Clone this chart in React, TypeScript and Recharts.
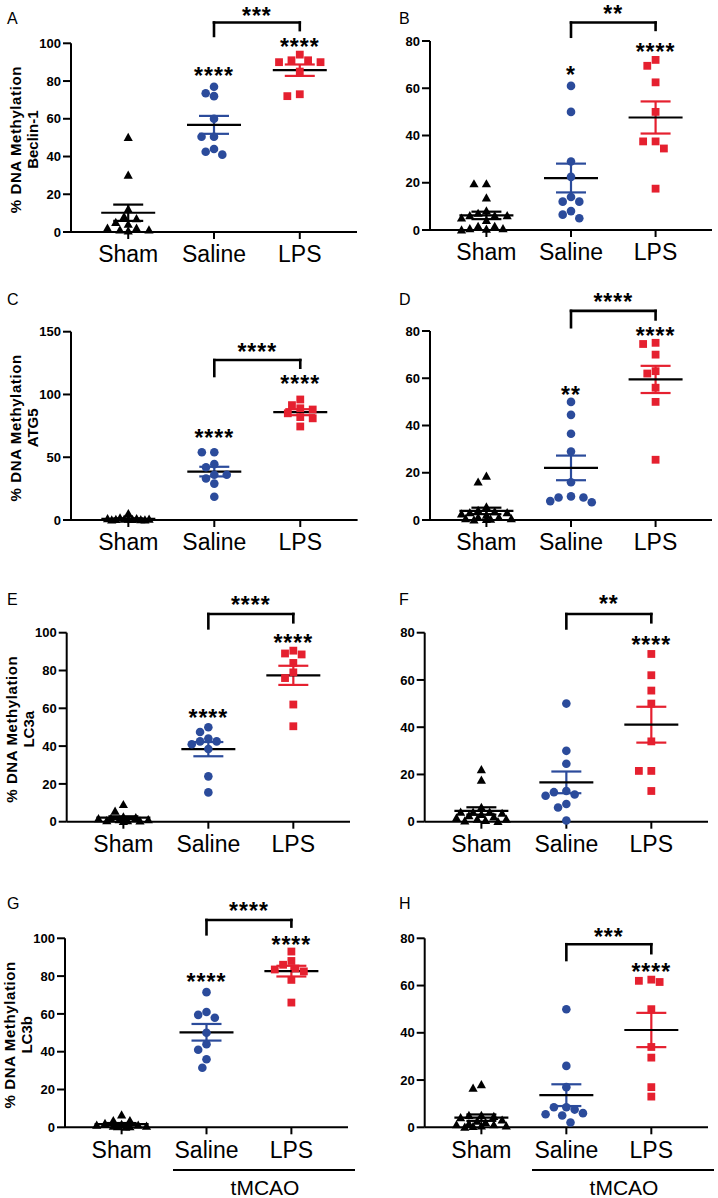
import React from 'react';
import { ScatterChart, Scatter, XAxis, YAxis, ReferenceLine, ReferenceDot } from 'recharts';

const FONT = '"Liberation Sans", Arial, Helvetica, sans-serif';
const BLUE = '#2B4B9B';
const RED = '#E5202F';
const BLACK = '#000000';

// ---------- data ----------
const groups = ['Sham', 'Saline', 'LPS'];

const shamA = [50, 30, 12, 8, 7, 5, 4, 2, 2, 1, 1, 0.5];
const salineA = [77, 73.5, 72, 60, 50.5, 50.5, 44, 42.5, 41];
const lpsA = [94, 91, 91, 90, 90, 85, 73, 72];

const shamB = [19.5, 19.5, 13.5, 8, 7, 6, 6, 6, 5, 4, 1.5, 1.5, 0.5, 0.5, 0.3, 0];
const salineB = [61, 50, 29, 22.5, 14, 12, 12, 8, 6.5, 5];
const lpsB = [72, 69.5, 62.5, 50, 37.5, 37.5, 34.5, 17.5];

const shamC = [5, 1.5, 1, 1, 0.5, 0.5, 0.5, 0.3, 0.3, 0.2, 0, 0];
const salineC = [54, 54, 44.5, 42, 36, 36, 33, 29, 18.5];
const lpsC = [96, 91.5, 89, 88, 85, 82, 81, 74.5];

const shamD = [18.5, 16, 5.5, 4, 3.5, 3, 3, 2.5, 2, 1, 1, 0.5, 0.5, 0.3, 0.2, 0];
const salineD = [50, 44.5, 36.5, 29, 16, 10, 9.5, 9.5, 8, 7.5];
const lpsD = [75, 74.5, 70, 63, 62, 56, 50, 25.5];

const shamE = [9, 5.5, 2.5, 2, 1.5, 1.5, 1, 1, 0.5, 0.5, 0.3, 0];
const salineE = [50, 47.5, 44, 42.5, 42.5, 41, 38.5, 24, 15.5];
const lpsE = [90.5, 89, 88.5, 84, 79, 76, 62, 50.5];

const shamF = [22, 17.5, 6, 4, 4, 4, 3.5, 3, 2.5, 2, 1.5, 1, 1, 0.5, 0.3, 0];
const salineF = [50, 30, 24.5, 13, 12.5, 11.5, 11, 7.5, 6, 0.5];
const lpsF = [71, 62, 55.5, 50, 34, 21.5, 21.5, 13];

const shamG = [6.5, 3.5, 3.5, 2, 1.5, 1, 1, 0.5, 0.5, 0.3, 0.2, 0];
const salineG = [71.5, 61, 59.5, 58, 50, 44, 41, 36, 31.5];
const lpsG = [93, 88, 86, 84, 83.5, 82.5, 78, 66];

const shamH = [18, 16.5, 5, 5, 4.5, 4, 3, 2.5, 2, 1.5, 1, 1, 0.5, 0.5, 0.3, 0];
const salineH = [50, 26, 17, 8.5, 8.5, 7.5, 6, 5.5, 5, 2];
const lpsH = [62.5, 62, 61.5, 50, 34, 29.5, 17, 13];

const ticks80 = [0, 20, 40, 60, 80];
const ticks100 = [0, 20, 40, 60, 80, 100];
const ticks150 = [0, 50, 100, 150];

const yTitle = '% DNA Methylation';
const genes = ['Beclin-1', 'ATG5', 'LC3a', 'LC3b'];
const letters = ['A', 'B', 'C', 'D', 'E', 'F', 'G', 'H'];
const groupBarLabel = 'tMCAO';

type Star = { group: number; y: number; text: string };
type Bracket = { top: number; leftEnd: number; rightEnd: number; text: string; textY: number };

const starsA: Star[] = [{ group: 1, y: 85.3, text: '****' }, { group: 2, y: 100.4, text: '****' }];
const bracketA: Bracket = { top: 111, leftEnd: 103.9, rightEnd: 107, text: '***', textY: 116.8 };
const starsB: Star[] = [{ group: 1, y: 67.4, text: '*' }, { group: 2, y: 77.2, text: '****' }];
const bracketB: Bracket = { top: 87.8, leftEnd: 81.8, rightEnd: 84.7, text: '**', textY: 93.4 };
const starsC: Star[] = [{ group: 1, y: 69, text: '****' }, { group: 2, y: 112, text: '****' }];
const bracketC: Bracket = { top: 127.4, leftEnd: 114.7, rightEnd: 121.3, text: '****', textY: 137.5 };
const starsD: Star[] = [{ group: 1, y: 55, text: '**' }, { group: 2, y: 80, text: '****' }];
const bracketD: Bracket = { top: 88.5, leftEnd: 81.6, rightEnd: 84.9, text: '****', textY: 94.3 };
const starsE: Star[] = [{ group: 1, y: 57.3, text: '****' }, { group: 2, y: 97, text: '****' }];
const bracketE: Bracket = { top: 109.9, leftEnd: 102.3, rightEnd: 105.5, text: '****', textY: 117.3 };
const starsF: Star[] = [{ group: 2, y: 76.9, text: '****' }];
const bracketF: Bracket = { top: 87.9, leftEnd: 81.8, rightEnd: 84.4, text: '**', textY: 94.2 };
const starsG: Star[] = [{ group: 1, y: 79.2, text: '****' }, { group: 2, y: 99.1, text: '****' }];
const bracketG: Bracket = { top: 109.7, leftEnd: 102.1, rightEnd: 106.2, text: '****', textY: 116.8 };
const starsH: Star[] = [{ group: 2, y: 67.6, text: '****' }];
const bracketH: Bracket = { top: 77.5, leftEnd: 70.8, rightEnd: 73.7, text: '***', textY: 82.5 };

// ---------- layout ----------
const X_DOMAIN: [number, number] = [-0.667, 2.667];
const Y_AXIS_W = 50;
const X_AXIS_H = 40;

type Box = { left: number; top: number; w: number; h: number };
type Plot = { left: number; top: number; right: number; bottom: number };

const panels = [
  { box: { left: 0, top: 0, w: 359, h: 290 }, plot: { left: 71, top: 43.3, right: 357, bottom: 232 }, letterPos: [7, 11], gene: genes[0], yMax: 100, yTicks: ticks100, series: [shamA, salineA, lpsA], stars: starsA, bracket: bracketA, group: false },
  { box: { left: 359, top: 0, w: 359, h: 290 }, plot: { left: 71, top: 41, right: 353, bottom: 230 }, letterPos: [40, 10.5], gene: null, yMax: 80, yTicks: ticks80, series: [shamB, salineB, lpsB], stars: starsB, bracket: bracketB, group: false },
  { box: { left: 0, top: 290, w: 359, h: 295 }, plot: { left: 71, top: 41.7, right: 357.6, bottom: 230 }, letterPos: [7, 2], gene: genes[1], yMax: 150, yTicks: ticks150, series: [shamC, salineC, lpsC], stars: starsC, bracket: bracketC, group: false },
  { box: { left: 359, top: 290, w: 359, h: 295 }, plot: { left: 71, top: 41, right: 353, bottom: 230 }, letterPos: [40, 2], gene: null, yMax: 80, yTicks: ticks80, series: [shamD, salineD, lpsD], stars: starsD, bracket: bracketD, group: false },
  { box: { left: 0, top: 585, w: 359, h: 290 }, plot: { left: 66.7, top: 47.7, right: 350, bottom: 236.7 }, letterPos: [7, 7], gene: genes[2], yMax: 100, yTicks: ticks100, series: [shamE, salineE, lpsE], stars: starsE, bracket: bracketE, group: false },
  { box: { left: 359, top: 585, w: 359, h: 290 }, plot: { left: 65.7, top: 47.7, right: 349, bottom: 236.7 }, letterPos: [40, 7], gene: null, yMax: 80, yTicks: ticks80, series: [shamF, salineF, lpsF], stars: starsF, bracket: bracketF, group: false },
  { box: { left: 0, top: 875, w: 359, h: 323 }, plot: { left: 65, top: 63.3, right: 348, bottom: 252.3 }, letterPos: [7, 20.7], gene: genes[3], yMax: 100, yTicks: ticks100, series: [shamG, salineG, lpsG], stars: starsG, bracket: bracketG, group: true },
  { box: { left: 359, top: 875, w: 359, h: 323 }, plot: { left: 65.7, top: 63.3, right: 349, bottom: 252.3 }, letterPos: [40, 20.7], gene: null, yMax: 80, yTicks: ticks80, series: [shamH, salineH, lpsH], stars: starsH, bracket: bracketH, group: true },
];

// ---------- helpers ----------
const mean = (v: number[]) => v.reduce((a, b) => a + b, 0) / v.length;
const sem = (v: number[]) => {
  const m = mean(v);
  const sd = Math.sqrt(v.reduce((a, b) => a + (b - m) * (b - m), 0) / (v.length - 1));
  return sd / Math.sqrt(v.length);
};

// simple beeswarm: spread overlapping points sideways (in pixels), limited width, convert to axis units
function swarm(values: number[], g: number, pxPerY: number, pxPerX: number) {
  const minDist = 8.6;
  const half = 4.15;
  const maxDx = 26;
  const cands: number[] = [0];
  for (let k = 1; k * half <= maxDx; k++) cands.push(-k * half, k * half);
  const sorted = [...values].sort((a, b) => b - a);
  const placed: { dx: number; py: number }[] = [];
  return sorted.map((v) => {
    const py = v * pxPerY;
    let best = 0;
    let bestScore = -Infinity;
    for (const dx of cands) {
      const md = placed.reduce((mn, p) => Math.min(mn, Math.hypot(p.dx - dx, p.py - py)), Infinity);
      if (md >= minDist) { best = dx; break; }
      if (md > bestScore + 0.5) { bestScore = md; best = dx; }
    }
    placed.push({ dx: best, py });
    return { x: g + best / pxPerX, y: v };
  });
}

const TriangleShape = (p: any) => (
  <path d={`M${p.cx},${p.cy - 4.8} L${p.cx + 4.6},${p.cy + 3.4} L${p.cx - 4.6},${p.cy + 3.4} Z`} fill={BLACK} />
);
const CircleShape = (p: any) => <circle cx={p.cx} cy={p.cy} r={4.3} fill={BLUE} />;
const SquareShape = (p: any) => <rect x={p.cx - 3.9} y={p.cy - 3.9} width={7.8} height={7.8} fill={RED} />;
const shapes = [TriangleShape, CircleShape, SquareShape];
const errColors = [BLACK, BLUE, RED];

const starStyle = { fontSize: 23, fontWeight: 'bold' as const, fontFamily: FONT, fill: BLACK, letterSpacing: 1 };
const starShape = (text: string) => (p: any) => (
  <text x={p.cx} y={p.cy} dy="0.55em" textAnchor="middle" {...starStyle}>{text}</text>
);

const YLabel = ({ gene, plot }: { gene: string; plot: Plot }) => {
  const cy = (plot.top + plot.bottom) / 2 + 2;
  const lines = [yTitle, gene];
  return (
    <g>
      {lines.map((t, i) => {
        const x = plot.left - 50 + i * 17;
        return (
          <text key={i} x={x} y={cy} transform={`rotate(-90, ${x}, ${cy})`} textAnchor="middle"
            fontSize={15} fontWeight="bold" fontFamily={FONT} fill={BLACK} letterSpacing={i === 0 ? 0.6 : 0}>
            {t}
          </text>
        );
      })}
    </g>
  );
};

function Panel({ cfg, idx }: { cfg: any; idx: number }) {
  const box: Box = cfg.box;
  const plot: Plot = cfg.plot;
  const plotW = plot.right - plot.left;
  const plotH = plot.bottom - plot.top;
  const pxPerY = plotH / cfg.yMax;
  const pxPerX = plotW / (X_DOMAIN[1] - X_DOMAIN[0]);
  const margin = {
    top: plot.top,
    left: plot.left - Y_AXIS_W,
    right: box.w - plot.right,
    bottom: box.h - plot.bottom - X_AXIS_H,
  };
  const series: number[][] = cfg.series;
  const data = series.map((vals, g) => swarm(vals, g, pxPerY, pxPerX));
  const halfMean = 27 / pxPerX;
  const halfCap = 15 / pxPerX;
  const br: Bracket = cfg.bracket;
  const lineProps = { ifOverflow: 'visible' as const, strokeWidth: 2.2 };

  return (
    <div style={{ position: 'absolute', left: box.left, top: box.top, width: box.w, height: box.h }}>
      <ScatterChart width={box.w} height={box.h} margin={margin}>
        <XAxis
          type="number" dataKey="x" domain={X_DOMAIN} ticks={[0, 1, 2]} interval={0}
          tickFormatter={(v: number) => groups[Math.round(v)]}
          height={X_AXIS_H} tickSize={7} tickMargin={7}
          axisLine={{ stroke: BLACK, strokeWidth: 2 }} tickLine={{ stroke: BLACK, strokeWidth: 2 }}
          tick={{ fontSize: 23, fill: BLACK, fontFamily: FONT }}
        />
        <YAxis
          type="number" dataKey="y" domain={[0, cfg.yMax]} ticks={cfg.yTicks} interval={0}
          width={Y_AXIS_W} tickSize={8} tickMargin={2}
          axisLine={{ stroke: BLACK, strokeWidth: 2 }} tickLine={{ stroke: BLACK, strokeWidth: 2 }}
          tick={{ fontSize: 13, fontWeight: 'bold', fill: BLACK, fontFamily: FONT }}
          label={cfg.gene ? <YLabel gene={cfg.gene} plot={plot} /> : undefined}
        />
        {data.map((d, g) => (
          <Scatter key={`s${g}`} name={groups[g]} data={d} shape={shapes[g]} isAnimationActive={false} />
        ))}
        {series.map((vals, g) => {
          const m = mean(vals);
          const e = sem(vals);
          const c = errColors[g];
          return [
            <ReferenceLine key={`v${g}`} segment={[{ x: g, y: m - e }, { x: g, y: m + e }]} stroke={c} {...lineProps} />,
            <ReferenceLine key={`t${g}`} segment={[{ x: g - halfCap, y: m + e }, { x: g + halfCap, y: m + e }]} stroke={c} {...lineProps} />,
            <ReferenceLine key={`b${g}`} segment={[{ x: g - halfCap, y: m - e }, { x: g + halfCap, y: m - e }]} stroke={c} {...lineProps} />,
            <ReferenceLine key={`m${g}`} segment={[{ x: g - halfMean, y: m }, { x: g + halfMean, y: m }]} stroke={BLACK} {...lineProps} />,
          ];
        })}
        <ReferenceLine segment={[{ x: 1, y: br.top }, { x: 2, y: br.top }]} stroke={BLACK} ifOverflow="visible" strokeWidth={2.6} strokeLinecap="square" />
        <ReferenceLine segment={[{ x: 1, y: br.top }, { x: 1, y: br.leftEnd }]} stroke={BLACK} ifOverflow="visible" strokeWidth={2.6} strokeLinecap="square" />
        <ReferenceLine segment={[{ x: 2, y: br.top }, { x: 2, y: br.rightEnd }]} stroke={BLACK} ifOverflow="visible" strokeWidth={2.6} strokeLinecap="square" />
        <ReferenceDot x={1.5} y={br.textY} r={0} ifOverflow="visible" shape={starShape(br.text)} />
        {(cfg.stars as Star[]).map((s, i) => (
          <ReferenceDot key={`st${i}`} x={s.group} y={s.y} r={0} ifOverflow="visible" shape={starShape(s.text)} />
        ))}
      </ScatterChart>
      <div style={{ position: 'absolute', left: cfg.letterPos[0], top: cfg.letterPos[1], fontSize: 16, lineHeight: '16px', fontFamily: FONT, color: BLACK }}>
        {letters[idx]}
      </div>
      {cfg.group && (
        <>
          <div style={{ position: 'absolute', left: 173.3, top: 293.8, width: 181.7, height: 2.5, background: BLACK }} />
          <div style={{ position: 'absolute', left: 165, width: 200, top: 302, textAlign: 'center', fontSize: 21, lineHeight: '21px', fontFamily: FONT, color: BLACK }}>
            {groupBarLabel}
          </div>
        </>
      )}
    </div>
  );
}

export default function App() {
  return (
    <div style={{ position: 'absolute', left: 0, top: 0, width: 718, height: 1198, background: '#fff', overflow: 'hidden' }}>
      {panels.map((cfg, i) => (
        <Panel key={i} cfg={cfg} idx={i} />
      ))}
    </div>
  );
}
